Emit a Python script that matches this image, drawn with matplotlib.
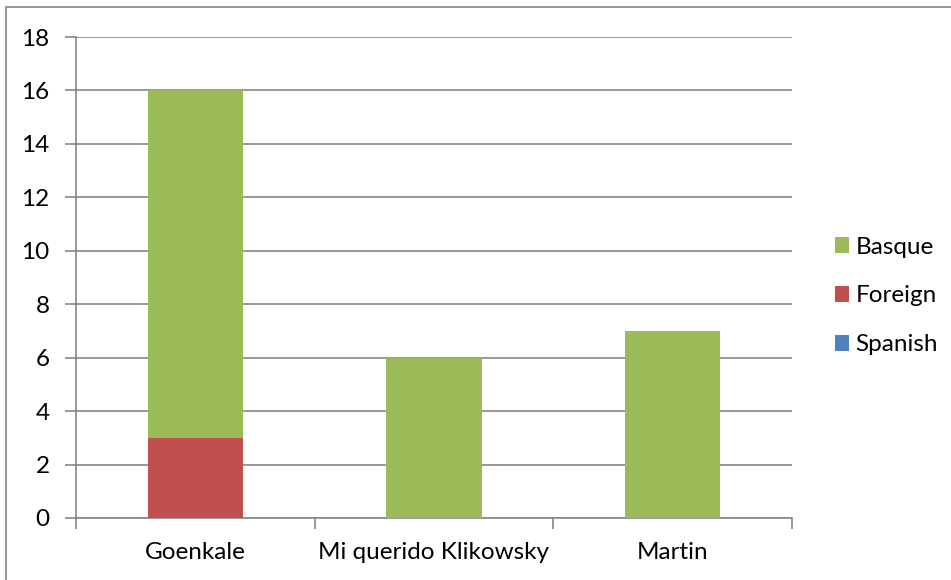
import matplotlib.pyplot as plt
from matplotlib.patches import Rectangle
import numpy as np

# chart data
categories = ['Goenkale', 'Mi querido Klikowsky', 'Martin']
spanish = [0, 0, 0]
foreign = [3, 0, 0]
basque = [13, 6, 7]

plt.rcParams['font.family'] = ['Lato', 'DejaVu Sans']

W, H = 951, 580
fig = plt.figure(figsize=(W / 100, H / 100), dpi=100)
ax = fig.add_axes([76 / W, 1 - 518 / H, (792 - 76) / W, (518 - 37) / H])

x = np.arange(len(categories))
grid_col = '#868686'
fs = 17.5

ax.bar(x, spanish, 0.4, color='#4f81bd', label='Spanish', zorder=3)
ax.bar(x, foreign, 0.4, bottom=spanish, color='#c0504d', label='Foreign', zorder=3)
bottom2 = np.array(spanish) + np.array(foreign)
ax.bar(x, basque, 0.4, bottom=bottom2, color='#9bbb59', label='Basque', zorder=3)

ax.set_xlim(-0.5, len(categories) - 0.5)
ax.set_ylim(0, 18)
ax.set_yticks(range(0, 19, 2))
ax.yaxis.grid(True, color=grid_col, linewidth=1.2, zorder=0)

# category boundary ticks, labels centred between them
ax.set_xticks(np.arange(-0.5, len(categories), 1))
ax.set_xticklabels([])
ax.set_xticks(x, minor=True)
ax.set_xticklabels(categories, minor=True)
ax.tick_params(axis='x', which='minor', length=0, pad=17, labelsize=fs)
ax.tick_params(axis='x', which='major', length=8, width=1.2, color=grid_col, direction='out')
ax.tick_params(axis='y', length=8, width=1.2, color=grid_col, direction='out', pad=11, labelsize=fs)

for s in ['top', 'right']:
    ax.spines[s].set_visible(False)
for s in ['left', 'bottom']:
    ax.spines[s].set_color(grid_col)
    ax.spines[s].set_linewidth(1.2)

handles, labels = ax.get_legend_handles_labels()
fig.legend(handles[::-1], labels[::-1], loc='center left',
           bbox_to_anchor=(813 / W, 1 - 296 / H), frameon=False,
           fontsize=fs, handlelength=0.6, handleheight=0.6,
           handletextpad=0.25, labelspacing=1.15)

# outer chart border
fig.patches.append(Rectangle((6 / W, -0.01), 1.0, 1 - 7 / H + 0.01,
                             transform=fig.transFigure, fill=False,
                             edgecolor='#868686', linewidth=1.2))

fig.savefig('out.png', dpi=100)
